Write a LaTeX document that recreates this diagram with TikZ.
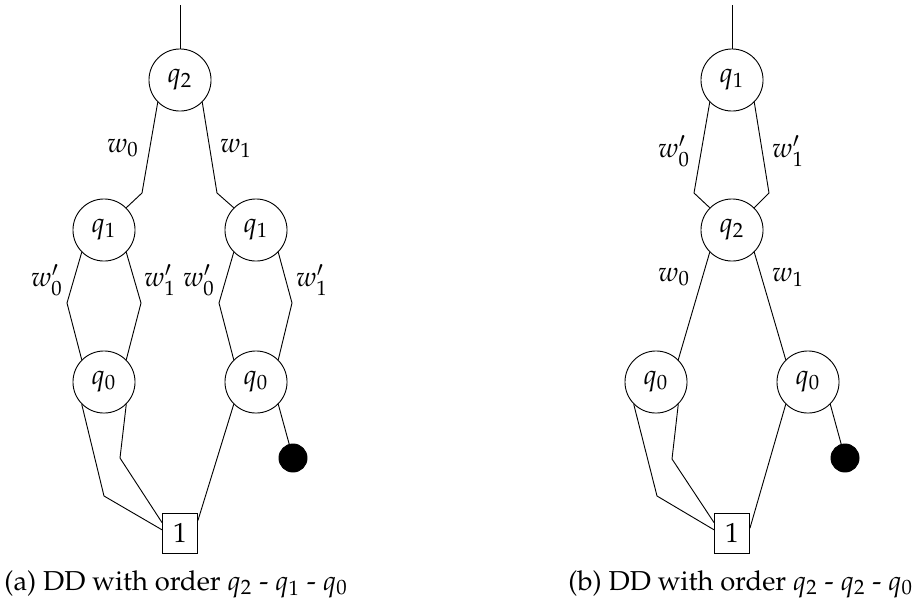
\documentclass[tikz,border=0pt,12pt]{standalone}
\usepackage[T1]{fontenc}
\usepackage{mathpazo}
\begin{document}
\begin{tikzpicture}[x=0.435pt,y=-0.435pt,
  vnode/.style={circle,draw,minimum size=27pt,inner sep=0pt},
  termbox/.style={rectangle,draw,minimum width=15.2pt,minimum height=17.4pt,inner sep=0pt},
  zerodot/.style={circle,fill=black,draw=black,minimum size=12.2pt,inner sep=0pt},
  edge/.style={draw,line width=0.4pt},
  lab/.style={inner sep=0pt},
  captext/.style={anchor=base west,inner sep=0pt,font=\fontsize{11.9}{14.5}\selectfont}]
\useasboundingbox (0,0) rectangle (917,608);

% ---------- (a) ----------
\coordinate (At) at (180,5);
\node[vnode] (A2) at (180,80) {$q_2$};
\node[vnode] (A1l) at (104,230) {$q_1$};
\node[vnode] (A1r) at (256,230) {$q_1$};
\node[vnode] (A0l) at (104,382) {$q_0$};
\node[vnode] (A0r) at (256,382) {$q_0$};
\node[termbox] (AT) at (180,533) {$1$};
\node[zerodot] (AZ) at (293,458) {};

\coordinate (ak1) at (142,193);
\coordinate (ak2) at (217,193);
\coordinate (ak3) at (67,303);
\coordinate (ak4) at (141,303);
\coordinate (ak5) at (219,303);
\coordinate (ak6) at (292,303);
\coordinate (ak7) at (104,496);
\coordinate (ak8) at (120,458);

\draw[edge] (At) -- (A2.north);
\draw[edge] (A2.-135) -- (ak1) -- (A1l.45);
\draw[edge] (A2.-45) -- (ak2) -- (A1r.135);
\draw[edge] (A1l.-135) -- (ak3) -- (A0l.135);
\draw[edge] (A1l.-45) -- (ak4) -- (A0l.45);
\draw[edge] (A1r.-135) -- (ak5) -- (A0r.135);
\draw[edge] (A1r.-45) -- (ak6) -- (A0r.45);
\draw[edge] (A0l.-135) -- (ak7) -- (AT.170);
\draw[edge] (A0l.-45) -- (ak8) -- (AT.150);
\draw[edge] (A0r.-135) -- (AT.35);
\draw[edge] (A0r.-45) -- (AZ);

\node[lab] (aw0) at (123,148) {$w_0$};
\node[lab] (aw1) at (236,148) {$w_1$};
\node[lab] (aw0a) at (47,280) {$w'_0$};
\node[lab] (aw1a) at (160,280) {$w'_1$};
\node[lab] (aw0b) at (199,280) {$w'_0$};
\node[lab] (aw1b) at (312,280) {$w'_1$};

\node[captext] (capA) at (4,590) {(a) DD with order $q_2$ - $q_1$ - $q_0$};

% ---------- (b) ----------
\coordinate (Bt) at (732,5);
\node[vnode] (B1) at (732,80) {$q_1$};
\node[vnode] (B2) at (732,230) {$q_2$};
\node[vnode] (B0l) at (656,382) {$q_0$};
\node[vnode] (B0r) at (808,382) {$q_0$};
\node[termbox] (BT) at (732,533) {$1$};
\node[zerodot] (BZ) at (845,458) {};

\coordinate (bk1) at (694,193);
\coordinate (bk2) at (769,193);
\coordinate (bk3) at (657,496);
\coordinate (bk4) at (672,459);

\draw[edge] (Bt) -- (B1.north);
\draw[edge] (B1.-135) -- (bk1) -- (B2.135);
\draw[edge] (B1.-45) -- (bk2) -- (B2.45);
\draw[edge] (B2.-135) -- (B0l.45);
\draw[edge] (B2.-45) -- (B0r.135);
\draw[edge] (B0l.-135) -- (bk3) -- (BT.170);
\draw[edge] (B0l.-45) -- (bk4) -- (BT.150);
\draw[edge] (B0r.-135) -- (BT.15);
\draw[edge] (B0r.-45) -- (BZ);

\node[lab] (bw0a) at (674,151) {$w'_0$};
\node[lab] (bw1a) at (788,151) {$w'_1$};
\node[lab] (bw0) at (674,277) {$w_0$};
\node[lab] (bw1) at (788,277) {$w_1$};

\node[captext] (capB) at (568,590) {(b) DD with order $q_2$ - $q_2$ - $q_0$};
\end{tikzpicture}
\end{document}
